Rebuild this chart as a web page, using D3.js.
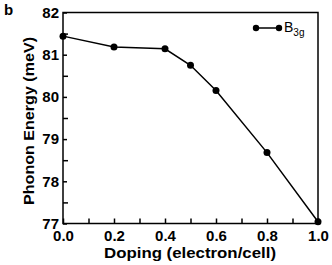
<!DOCTYPE html>
<html>
<head>
<meta charset="utf-8">
<script src="https://cdn.jsdelivr.net/npm/d3@7"></script>
<style>
  body { margin: 0; background: #fff; }
  text { font-family: "Liberation Sans", Arial, sans-serif; font-weight: bold; fill: #000; }
</style>
</head>
<body>
<div class="chart"></div>
<script>
// data
var doping = [0.0, 0.2, 0.4, 0.5, 0.6, 0.8, 1.0];
var energy = [81.44, 81.18, 81.14, 80.75, 80.15, 78.68, 77.04];
var xTicks = [0.0, 0.2, 0.4, 0.6, 0.8, 1.0];
var yTicks = [77, 78, 79, 80, 81, 82];

var width = 332, height = 265;
var plotLeft = 63, plotRight = 318, plotTop = 12.5, plotBottom = 223.5;

var svg = d3.select(".chart").append("svg")
    .attr("width", width)
    .attr("height", height);

var x = d3.scaleLinear().domain([0, 1]).range([plotLeft, plotRight]);
var y = d3.scaleLinear().domain([77, 82]).range([plotBottom, plotTop]);

//Minor ticks first, then major ticks with labels.
var xAxis = d3.axisBottom(x).tickValues(xTicks).tickFormat(d3.format(".1f"))
    .tickSizeInner(-5).tickSizeOuter(0).tickPadding(7);
var xMinor = d3.axisBottom(x).tickValues(d3.range(0.1, 1, 0.2)).tickFormat("")
    .tickSizeInner(-5).tickSizeOuter(0);
var yAxis = d3.axisLeft(y).tickValues(yTicks).tickFormat(d3.format("d"))
    .tickSizeInner(-4).tickSizeOuter(0).tickPadding(4);
var yMinor = d3.axisLeft(y).tickValues(d3.range(77.5, 82, 1)).tickFormat("")
    .tickSizeInner(-5).tickSizeOuter(0);

function styleAxis(g) {
    g.select(".domain").remove();
    g.selectAll("line").attr("stroke", "#000").attr("stroke-width", 1.5);
    g.selectAll("text").style("font-size", "15px").style("font-family", "Liberation Sans, Arial, sans-serif").style("font-weight", "bold");
}

svg.append("g").attr("transform", "translate(0," + plotBottom + ")").call(xMinor).call(styleAxis);
svg.append("g").attr("transform", "translate(0," + plotBottom + ")").call(xAxis).call(styleAxis);
svg.append("g").attr("transform", "translate(" + plotLeft + ",0)").call(yMinor).call(styleAxis);
svg.append("g").attr("transform", "translate(" + plotLeft + ",0)").call(yAxis).call(styleAxis);

//Frame around the plot.
svg.append("rect")
    .attr("x", plotLeft).attr("y", plotTop)
    .attr("width", plotRight - plotLeft).attr("height", plotBottom - plotTop)
    .attr("fill", "none").attr("stroke", "#000").attr("stroke-width", 1.5);

//Data line and markers.
var points = doping.map(function(d, i) { return [d, energy[i]]; });
var line = d3.line().x(function(d) { return x(d[0]); }).y(function(d) { return y(d[1]); });

svg.append("path").datum(points)
    .attr("d", line)
    .attr("fill", "none").attr("stroke", "#000").attr("stroke-width", 1.5);

svg.selectAll("circle.pt").data(points).enter().append("circle")
    .attr("class", "pt")
    .attr("cx", function(d) { return x(d[0]); })
    .attr("cy", function(d) { return y(d[1]); })
    .attr("r", 3.5)
    .attr("fill", "#000");

//Legend.
var legendY = 28;
svg.append("line").attr("x1", 256).attr("x2", 279).attr("y1", legendY).attr("y2", legendY)
    .attr("stroke", "#000").attr("stroke-width", 1.5);
svg.selectAll("circle.lg").data([256, 279]).enter().append("circle")
    .attr("class", "lg").attr("cx", function(d) { return d; }).attr("cy", legendY)
    .attr("r", 3.2).attr("fill", "#000");
var lt = svg.append("text").attr("x", 284).attr("y", 32).style("font-size", "14px").style("font-weight", "normal");
lt.append("tspan").text("B");
lt.append("tspan").attr("dy", 4).style("font-size", "10px").text("3g");

//Axis titles and panel letter.
svg.append("text").attr("x", 104).attr("y", 258)
    .attr("textLength", 172).attr("lengthAdjust", "spacingAndGlyphs")
    .style("font-size", "15px")
    .text("Doping (electron/cell)");
svg.append("text")
    .attr("transform", "translate(34,205) rotate(-90)")
    .attr("textLength", 168).attr("lengthAdjust", "spacingAndGlyphs")
    .style("font-size", "15px")
    .text("Phonon Energy (meV)");
svg.append("text").attr("x", 4).attr("y", 15).style("font-size", "15px").text("b");
</script>
</body>
</html>
